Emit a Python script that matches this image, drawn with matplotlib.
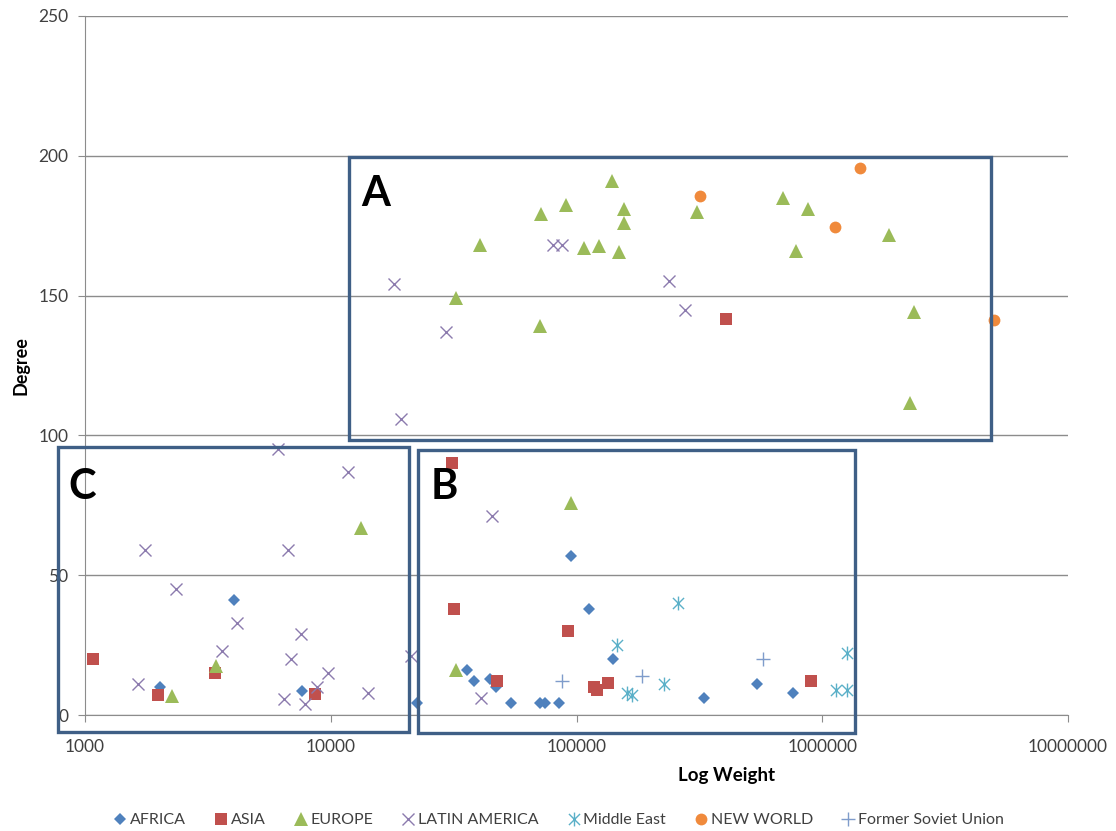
import numpy as np
import matplotlib
matplotlib.use("Agg")
import matplotlib.pyplot as plt
from matplotlib.patches import Rectangle
from matplotlib.path import Path
from matplotlib.ticker import FixedLocator, FuncFormatter, NullLocator

plt.rcParams['font.family'] = ['Lato', 'DejaVu Sans']

# series: (weight, degree)
africa_x = [4050, 2020, 7650, 22500, 36000, 38300, 44500, 47000, 54000, 71000, 74500,
            85000, 95300, 112500, 141000, 331000, 545000, 763000]
africa_y = [41, 10, 8.7, 4.2, 16, 12, 13, 10, 4.2, 4.2, 4.2, 4.2, 57, 38, 20, 6, 11, 8]

asia_x = [1080, 1980, 3370, 8620, 31000, 31700, 47600, 92300, 118000, 121000, 134000,
          405000, 899000]
asia_y = [20.2, 7.3, 15, 7.4, 90, 38, 12.3, 30, 10.1, 8.9, 11.3, 141.5, 12.2]

europe_x = [2270, 3400, 13250, 32200, 95300, 139900, 310100, 90800, 71700, 156100, 156100,
            40500, 107700, 123600, 149400, 32200, 71000, 690500, 872600, 1873000, 779600,
            2355000, 2276000]
europe_y = [6.8, 17.5, 67, 16, 76, 191, 180, 182.4, 179.2, 180.9, 176.1, 168, 167.2, 167.9,
            165.7, 149, 139, 185, 180.9, 171.7, 166, 144, 111.7]

latam_x = [6100, 11800, 1750, 6700, 2350, 4170, 7600, 3600, 6860, 9770, 1650, 6470, 7850,
           8770, 14200, 21300, 45200, 40800, 80500, 87100, 18150, 238400, 277300, 29400, 19400]
latam_y = [95, 87, 59, 59, 45, 33, 29, 23, 20, 15, 11, 5.8, 4, 10, 8, 21, 71, 6, 168, 168,
           154, 155.3, 145, 137, 106]

mideast_x = [259600, 145500, 1258000, 160000, 167600, 227000, 1138000, 1258000]
mideast_y = [40, 25, 22, 7.7, 7.2, 11, 8.9, 8.9]

newworld_x = [318000, 1429000, 1127000, 4977000]
newworld_y = [185.7, 195.5, 174.4, 141.3]

fsu_x = [87100, 185300, 575700]
fsu_y = [12, 14, 20]

x_ticks = [1000, 10000, 100000, 1000000, 10000000]
y_ticks = [0, 50, 100, 150, 200, 250]

# excel style star: an x with a vertical bar through it
star = Path([(-0.4, -0.4), (0.4, 0.4), (-0.4, 0.4), (0.4, -0.4), (0, -0.5), (0, 0.5)],
            [Path.MOVETO, Path.LINETO, Path.MOVETO, Path.LINETO, Path.MOVETO, Path.LINETO])

W, H = 1116, 831
fig = plt.figure(figsize=(W / 100, H / 100), dpi=100)
ax = fig.add_axes([85 / W, 1 - 715 / H, (1068 - 85) / W, (715 - 16) / H])

ax.plot(africa_x, africa_y, 'D', color='#4F81BD', ms=6.5, mew=0, label='AFRICA', clip_on=False)
ax.plot(asia_x, asia_y, 's', color='#C0504D', ms=8.5, mew=0, label='ASIA', clip_on=False)
ax.plot(europe_x, europe_y, '^', color='#9BBB59', ms=9.5, mew=0, label='EUROPE', clip_on=False)
ax.plot(latam_x, latam_y, 'x', color='#8C7BAE', ms=9, mew=1.0, label='LATIN AMERICA', clip_on=False)
ax.plot(mideast_x, mideast_y, marker=star, ls='none', color='#5BB0C8', ms=10, mew=1.0,
        label='Middle East', clip_on=False)
ax.plot(newworld_x, newworld_y, 'o', color='#F08A3C', ms=8.5, mew=0, label='NEW WORLD', clip_on=False)
ax.plot(fsu_x, fsu_y, '+', color='#7F9CCB', ms=10, mew=1.0, label='Former Soviet Union', clip_on=False)

ax.set_xscale('log')
ax.set_xlim(1000, 10000000)
ax.set_ylim(0, 250)
ax.xaxis.set_major_locator(FixedLocator(x_ticks))
ax.xaxis.set_minor_locator(NullLocator())
ax.xaxis.set_major_formatter(FuncFormatter(lambda v, p: '%d' % v))
ax.set_yticks(y_ticks)

ax.grid(axis='y', color='#8c8c8c', lw=1)
ax.set_axisbelow(True)
for s in ['top', 'right']:
    ax.spines[s].set_visible(False)
for s in ['left', 'bottom']:
    ax.spines[s].set_color('#8c8c8c')
ax.tick_params(axis='both', colors='#8c8c8c', labelcolor='#404040', labelsize=12.5, length=5)
ax.tick_params(axis='x', pad=12)
ax.tick_params(axis='y', pad=7)

ax.set_ylabel('Degree', fontsize=13, fontweight='bold', labelpad=6)
fig.text(727 / W, 1 - 775 / H, 'Log Weight', fontsize=13.5, fontweight='bold', ha='center', va='center')

# region boxes (figure pixels)
boxes = [('A', 349, 157, 991, 440, 376, 194),
         ('B', 418, 450, 855, 733, 444, 487),
         ('C', 58, 447, 409, 732, 82, 487)]
for name, x0, y0, x1, y1, tx, ty in boxes:
    fig.add_artist(Rectangle((x0 / W, 1 - y1 / H), (x1 - x0) / W, (y1 - y0) / H,
                             transform=fig.transFigure, fill=False, ec='#3F5F86', lw=2.4, zorder=5))
    fig.text(tx / W, 1 - ty / H, name, fontsize=30, fontweight='bold', ha='center', va='center')

fig.legend(loc='center', bbox_to_anchor=(0.5, 1 - 820 / H), ncol=7, frameon=False, fontsize=11.5,
           handletextpad=0.1, columnspacing=1.7, handlelength=1.0, labelcolor='#404040')

fig.savefig('out.png', dpi=100)
